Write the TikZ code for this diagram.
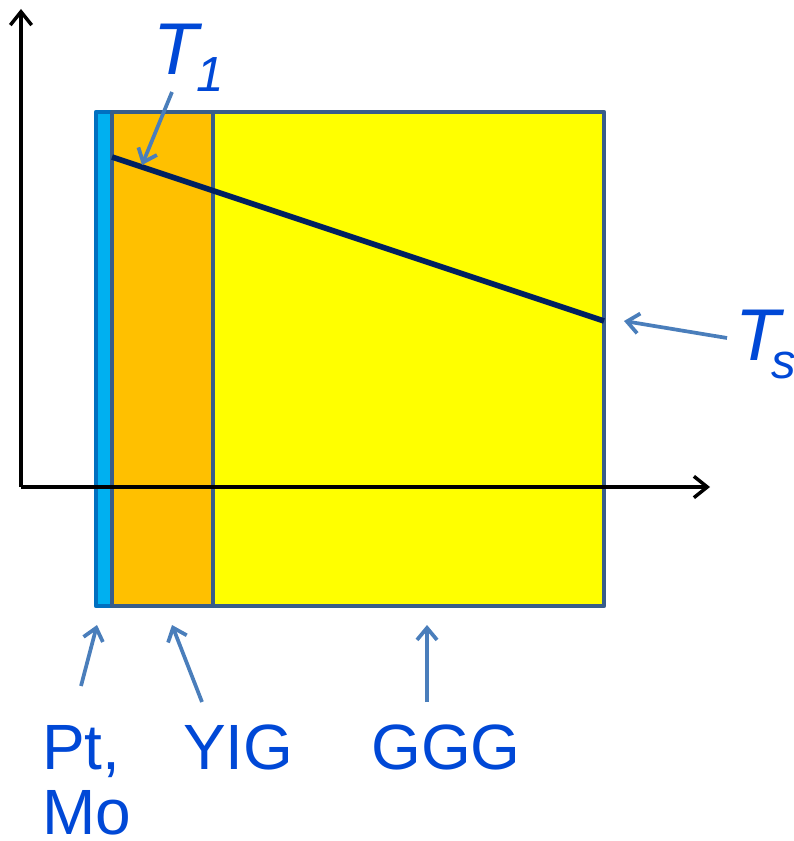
\documentclass[tikz,border=0pt]{standalone}
\usepackage{fontspec}
\setmainfont{Liberation Sans}
\usetikzlibrary{arrows.meta}
\definecolor{ptfill}{RGB}{0,176,240}
\definecolor{ptdraw}{RGB}{0,112,192}
\definecolor{yigfill}{RGB}{255,192,0}
\definecolor{gggfill}{RGB}{255,255,0}
\definecolor{slate}{RGB}{56,93,138}
\definecolor{navy}{RGB}{0,32,96}
\definecolor{pointer}{RGB}{74,126,187}
\definecolor{labelblue}{RGB}{0,72,214}
\tikzset{
  layerbox/.style={draw=slate, line width=3.4pt, line join=round},
  axisline/.style={draw=black, line width=2.6pt, -{Straight Barb[length=10pt,width=16pt,line width=2.6pt]}},
  pointerarrow/.style={draw=pointer, line width=2.8pt, -{Straight Barb[length=9pt,width=15pt,line width=2.8pt]}},
  lbl/.style={text=labelblue, inner sep=0pt, font=\fontsize{48}{66}\selectfont},
  bigT/.style={text=labelblue, inner sep=0pt, font=\fontsize{55}{66}\selectfont\itshape},
  subT/.style={text=labelblue, inner sep=0pt, font=\fontsize{37}{44}\selectfont\itshape},
}
\begin{document}
\begin{tikzpicture}[x=0.75pt,y=-0.75pt]
\useasboundingbox (0,0) rectangle (793,841);
% layers
\draw[layerbox, draw=ptdraw, fill=ptfill] (96,112) rectangle (112,606);
\draw[layerbox, fill=yigfill] (112,112) rectangle (213,606);
\draw[layerbox, fill=gggfill] (213,112) rectangle (604,606);
% axes
\coordinate (origin) at (21,487);
\coordinate (yend) at (21,9);
\coordinate (xend) at (710,487);
\draw[axisline] (origin) -- (yend);
\draw[axisline] (origin) -- (xend);
% temperature profile
\coordinate (t1) at (112,157);
\coordinate (ts) at (604,321);
\draw[navy, line width=4.2pt] (t1) -- (ts);
% labels
\node[bigT, anchor=base west] (T1) at (153,75) {T};
\node[subT, anchor=base west] (T1sub) at (196,92) {1};
\node[bigT, anchor=base west] (Ts) at (735,360) {T};
\node[subT, anchor=base west] (Tssub) at (771,378) {s};
\node[lbl, anchor=base west] (Pt) at (42,769) {Pt,};
\node[lbl, anchor=base west] (Mo) at (42,834) {Mo};
\node[lbl, anchor=base west] (YIG) at (183,769) {YIG};
\node[lbl, anchor=base west] (GGG) at (371,769) {GGG};
% pointer arrows
\coordinate (t1tail) at (172,92);
\coordinate (t1head) at (142,165);
\coordinate (tstail) at (727,338);
\coordinate (tshead) at (624,321);
\coordinate (pttail) at (81,686);
\coordinate (pthead) at (97,625);
\coordinate (yigtail) at (202,702);
\coordinate (yighead) at (172,625);
\coordinate (gggtail) at (427,702);
\coordinate (ggghead) at (427,625);
\draw[pointerarrow] (t1tail) -- (t1head);
\draw[pointerarrow] (tstail) -- (tshead);
\draw[pointerarrow] (pttail) -- (pthead);
\draw[pointerarrow] (yigtail) -- (yighead);
\draw[pointerarrow] (gggtail) -- (ggghead);
\end{tikzpicture}
\end{document}
